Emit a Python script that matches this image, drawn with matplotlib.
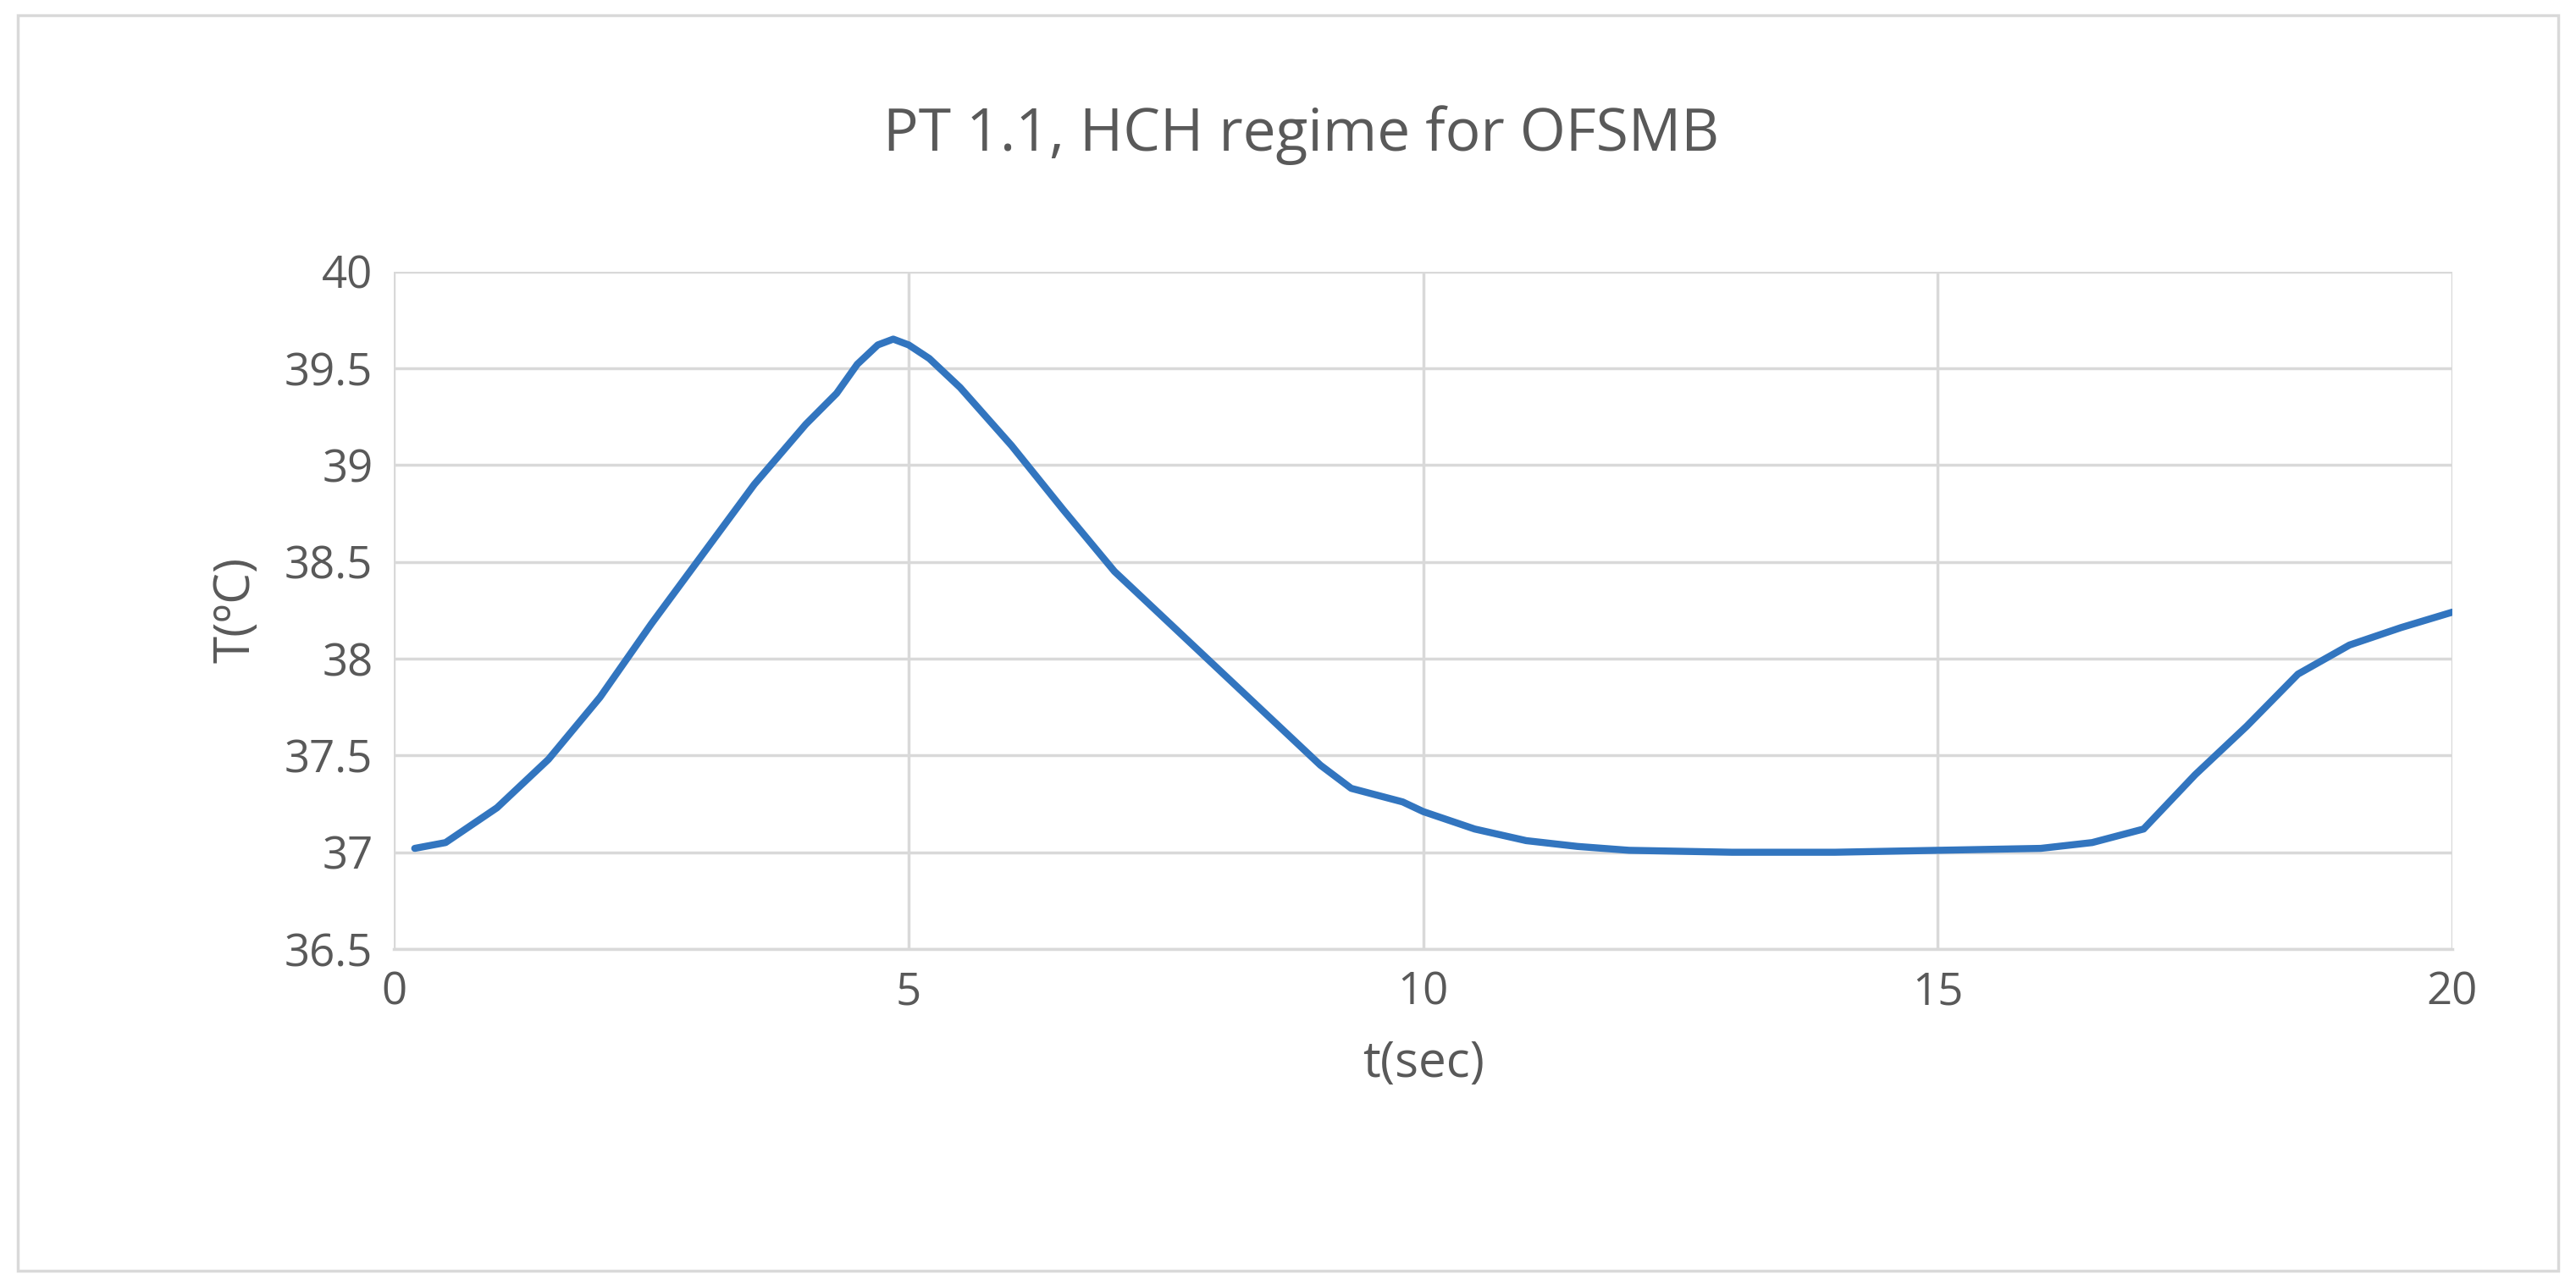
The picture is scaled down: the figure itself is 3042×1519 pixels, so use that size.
import matplotlib
matplotlib.use("Agg")
import matplotlib.pyplot as plt

t = [0.2, 0.5, 1, 1.5, 2, 2.5, 3, 3.5, 4, 4.3, 4.5, 4.7, 4.85, 5, 5.2, 5.5, 6, 6.5, 7, 7.5, 8, 8.5, 9, 9.3, 9.8, 10,
     10.5, 11, 11.5, 12, 13, 14, 15, 16, 16.5, 17, 17.5, 18, 18.5, 19, 19.5, 20]
T = [37.02, 37.05, 37.23, 37.48, 37.8, 38.18, 38.54, 38.9, 39.21, 39.37, 39.52, 39.62, 39.65, 39.62, 39.55, 39.4, 39.1,
     38.77, 38.45, 38.2, 37.95, 37.7, 37.45, 37.33, 37.26, 37.21, 37.12, 37.06, 37.03, 37.01, 37.0, 37.0,
     37.01, 37.02, 37.05, 37.12, 37.4, 37.65, 37.92, 38.07, 38.16, 38.24]
title = "PT 1.1, HCH regime for OFSMB"

plt.rcParams['font.family'] = ['Open Sans', 'DejaVu Sans']
fig = plt.figure(figsize=(30.42, 15.19), dpi=100)
ax = fig.add_axes([0.153, 0.262, 0.799, 0.527])
ax.plot(t, T, color='#3275BF', lw=6, solid_capstyle='round', solid_joinstyle='round')
ax.set_xlim(0, 20)
ax.set_ylim(36.5, 40)
ax.set_xticks([0, 5, 10, 15, 20])
ax.set_yticks([36.5, 37, 37.5, 38, 38.5, 39, 39.5, 40])
ax.set_yticklabels(['36.5', '37', '37.5', '38', '38.5', '39', '39.5', '40'])
ax.grid(True, color='#D9D9D9', lw=2.5)
for s in ['top', 'right', 'left']:
    ax.spines[s].set_visible(False)
ax.spines['bottom'].set_color('#D9D9D9')
ax.spines['bottom'].set_linewidth(2.5)
ax.tick_params(length=0, labelsize=38, colors='#595959', pad=18)
ax.set_xlabel('t(sec)', fontsize=42, color='#595959', labelpad=20)
ax.set_ylabel('T(ºC)', fontsize=42, color='#595959', labelpad=20)
fig.text(0.505, 0.895, title, ha='center', va='center', fontsize=50, color='#595959')
fig.patches.append(plt.Rectangle((0.007, 0.012), 0.986, 0.976, transform=fig.transFigure,
                                 fill=False, ec='#D9D9D9', lw=2.5))
fig.savefig('out.png', dpi=100)
